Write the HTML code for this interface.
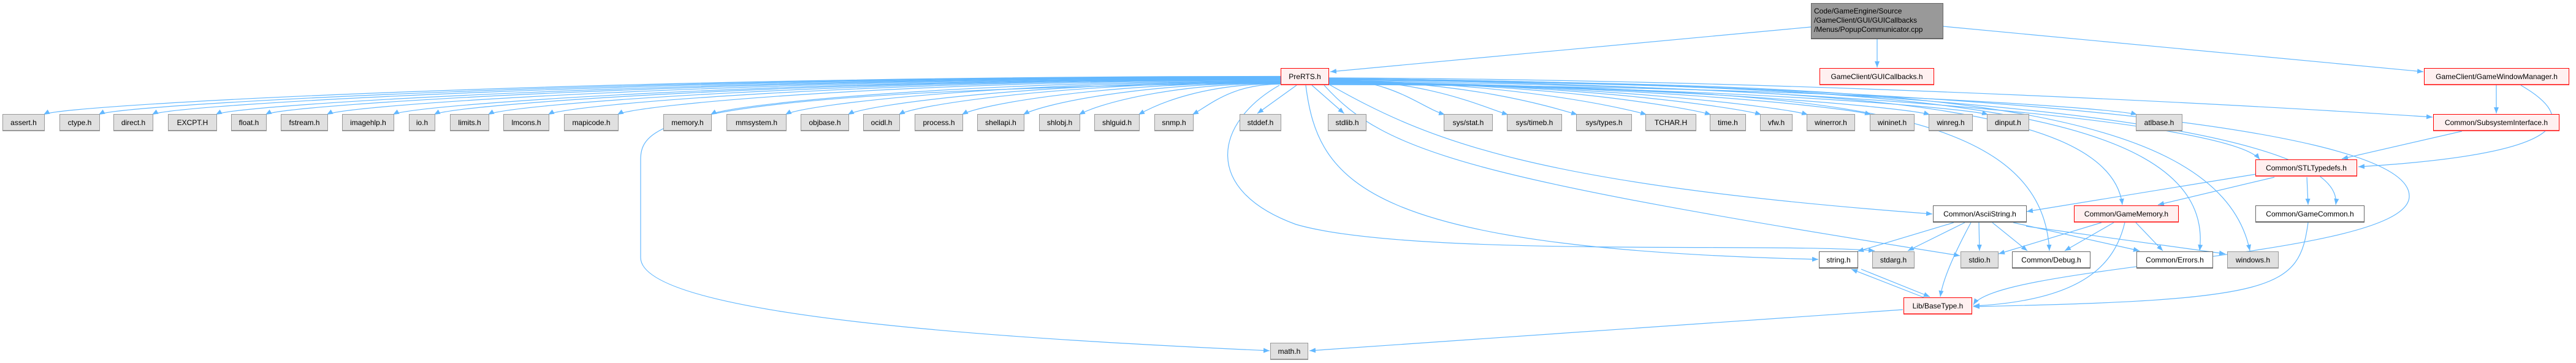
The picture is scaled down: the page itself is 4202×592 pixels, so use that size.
<!DOCTYPE html>
<html><head><meta charset="utf-8"><style>
html,body{margin:0;padding:0;background:#fff;}
#w{position:relative;width:4202px;height:592px;overflow:hidden;font-family:"Liberation Sans",sans-serif;font-size:12px;}
.n{position:absolute;box-sizing:border-box;height:28px;line-height:26px;text-align:center;white-space:nowrap;color:#000;background:#e0e0e0;border:1px solid #999;border-bottom:2px solid #999;}
.r{background:#fff0f0;border:1px solid #ff0000;border-bottom:2px solid #ff4040;}
.w{background:#fff;border:1px solid #666;border-bottom:2px solid #666;}
svg{position:absolute;left:0;top:0;}
</style></head><body><div id="w">
<svg id="s" width="4202" height="592" viewBox="0 0 4202 592">
<defs><marker id="a" markerWidth="10" markerHeight="8" refX="10" refY="4" orient="auto" markerUnits="userSpaceOnUse"><path d="M0,0 L10,4 L0,8 z" fill="#63b8ff"/></marker></defs>
<g id="g" fill="none" stroke="#63b8ff" stroke-width="1.2" marker-end="url(#a)"></g>
</svg>
<div class="n" style="left:2954px;top:5px;width:216px;height:59px;line-height:15px;padding-top:5px;text-align:left;padding-left:4px;background:#999;border-color:#666;">Code/GameEngine/Source<br>/GameClient/GUI/GUICallbacks<br>/Menus/PopupCommunicator.cpp</div>
<div class="n r" style="left:2089px;top:111px;width:79px">PreRTS.h</div>
<div class="n r" style="left:2968px;top:111px;width:187px">GameClient/GUICallbacks.h</div>
<div class="n r" style="left:3954px;top:111px;width:237px">GameClient/GameWindowManager.h</div>
<div class="n" style="left:4px;top:186px;width:69px">assert.h</div>
<div class="n" style="left:97px;top:186px;width:66px">ctype.h</div>
<div class="n" style="left:185px;top:186px;width:65px">direct.h</div>
<div class="n" style="left:274px;top:186px;width:80px">EXCPT.H</div>
<div class="n" style="left:377px;top:186px;width:58px">float.h</div>
<div class="n" style="left:458px;top:186px;width:77px">fstream.h</div>
<div class="n" style="left:558px;top:186px;width:85px">imagehlp.h</div>
<div class="n" style="left:667px;top:186px;width:43px">io.h</div>
<div class="n" style="left:734px;top:186px;width:64px">limits.h</div>
<div class="n" style="left:821px;top:186px;width:75px">lmcons.h</div>
<div class="n" style="left:920px;top:186px;width:89px">mapicode.h</div>
<div class="n" style="left:1082px;top:186px;width:79px">memory.h</div>
<div class="n" style="left:1185px;top:186px;width:98px">mmsystem.h</div>
<div class="n" style="left:1306px;top:186px;width:79px">objbase.h</div>
<div class="n" style="left:1408px;top:186px;width:60px">ocidl.h</div>
<div class="n" style="left:1492px;top:186px;width:79px">process.h</div>
<div class="n" style="left:1594px;top:186px;width:77px">shellapi.h</div>
<div class="n" style="left:1695px;top:186px;width:67px">shlobj.h</div>
<div class="n" style="left:1785px;top:186px;width:74px">shlguid.h</div>
<div class="n" style="left:1883px;top:186px;width:64px">snmp.h</div>
<div class="n" style="left:2022px;top:186px;width:68px">stddef.h</div>
<div class="n" style="left:2166px;top:186px;width:63px">stdlib.h</div>
<div class="n" style="left:2355px;top:186px;width:80px">sys/stat.h</div>
<div class="n" style="left:2458px;top:186px;width:90px">sys/timeb.h</div>
<div class="n" style="left:2571px;top:186px;width:91px">sys/types.h</div>
<div class="n" style="left:2684px;top:186px;width:83px">TCHAR.H</div>
<div class="n" style="left:2789px;top:186px;width:59px">time.h</div>
<div class="n" style="left:2871px;top:186px;width:53px">vfw.h</div>
<div class="n" style="left:2947px;top:186px;width:79px">winerror.h</div>
<div class="n" style="left:3050px;top:186px;width:73px">wininet.h</div>
<div class="n" style="left:3146px;top:186px;width:72px">winreg.h</div>
<div class="n" style="left:3241px;top:186px;width:69px">dinput.h</div>
<div class="n" style="left:3484px;top:186px;width:76px">atlbase.h</div>
<div class="n r" style="left:3969px;top:186px;width:206px">Common/SubsystemInterface.h</div>
<div class="n r" style="left:3679px;top:260px;width:166px">Common/STLTypedefs.h</div>
<div class="n w" style="left:3153px;top:335px;width:153px">Common/AsciiString.h</div>
<div class="n r" style="left:3383px;top:335px;width:171px">Common/GameMemory.h</div>
<div class="n w" style="left:3679px;top:335px;width:178px">Common/GameCommon.h</div>
<div class="n w" style="left:2967px;top:410px;width:64px">string.h</div>
<div class="n" style="left:3054px;top:410px;width:69px">stdarg.h</div>
<div class="n" style="left:3198px;top:410px;width:62px">stdio.h</div>
<div class="n w" style="left:3282px;top:410px;width:128px">Common/Debug.h</div>
<div class="n w" style="left:3485px;top:410px;width:125px">Common/Errors.h</div>
<div class="n" style="left:3633px;top:410px;width:84px">windows.h</div>
<div class="n r" style="left:3105px;top:485px;width:112px">Lib/BaseType.h</div>
<div class="n" style="left:2072px;top:559px;width:62px">math.h</div>
</div>
<script>
var g=document.getElementById('g');
function p(d){var e=document.createElementNS('http://www.w3.org/2000/svg','path');e.setAttribute('d',d);g.appendChild(e);}
var row=[[4,73],[97,163],[185,250],[274,354],[377,435],[458,535],[558,643],[667,710],[734,798],[821,896],[920,1009],[1082,1161],[1185,1283],[1306,1385],[1408,1468],[1492,1571],[1594,1671],[1695,1762],[1785,1859],[1883,1947],[2022,2090],[2166,2229],[2355,2435],[2458,2548],[2571,2662],[2684,2767],[2789,2848],[2871,2924],[2947,3026],[3050,3123],[3146,3218],[3241,3310],[3484,3560]];
row.forEach(function(b){
 var x1=b[0],x2=b[1];
 if(x2<2080){var tx=x2-2,ty=187;var sy=124+((x2/2080)*14);
  p('M2089,'+sy.toFixed(1)+' C'+(tx+(2089-tx)*0.45)+','+sy.toFixed(1)+' '+(tx+30)+',170 '+tx+','+ty);}
 else if(x1<2240){var tx=(x1+x2)/2-5;p('M'+(tx<2120?2115:2140)+',139 L'+tx+',185');}
 else {var tx=x1+2;var sy=128+Math.min(10,(x1-2240)/100);
  p('M2168,'+sy.toFixed(1)+' C'+(2168+(tx-2168)*0.55)+','+sy.toFixed(1)+' '+(tx-40)+',175 '+tx+',187');}
});
// top node edges
p('M2954,44 L2170,117');
p('M3062,64 L3062,110');
p('M3170,43 L3953,117');
// GWM
p('M4072,139 L4072,185');
p('M4112,139 C4200,190 4210,250 3847,272');
p('M4016,214 L3820,259');
// STL
p('M3680,284 L3306,345');
p('M3710,289 L3520,334');
p('M3763,289 L3765,334');
// AsciiString
p('M3187,363 L3030,410');
p('M3205,363 L3112,409');
p('M3215,363 C3195,400 3170,450 3165,484');
p('M3228,363 L3229,409');
p('M3250,363 L3307,409');
p('M3284,363 L3490,409');
p('M3305,369 L3630,414');
// GameMemory
p('M3428,363 L3260,414');
p('M3448,363 L3368,409');
p('M3466,363 C3450,430 3400,490 3219,499');
p('M3484,363 L3528,409');
// GameCommon
p('M3765,363 C3750,470 3720,490 3219,500');
// BaseType & string
p('M3138,485 L3020,439');
p('M3036,439 L3148,484');
p('M3104,505 L2136,572');
// PreRTS long edges
p('M2089,135 C1100,148 1045,200 1045,260 L1045,420 C1045,520 1700,555 2071,572');
p('M2087,139 C1980,200 1960,310 2114,366 C2300,420 2900,395 3058,409');
p('M2130,139 C2150,300 2230,405 2966,423');
p('M2160,139 C2260,250 2400,290 3197,417');
p('M2165,136 C2330,230 2500,300 3152,349');
p('M2168,132 C2900,150 3330,150 3343,409');
p('M2168,131 C2900,145 3440,150 3462,334');
p('M2168,130 C3000,140 3620,150 3588,409');
p('M2168,129 C3000,140 3615,140 3670,409');
p('M2168,129 C3000,140 3640,200 3686,260');
p('M2168,128 C3000,135 3830,190 3810,334');
p('M2168,128 C3000,135 3932,190 3930,320 C3930,420 3260,430 3219,497');
p('M2168,127 C3000,130 3800,180 3968,191');
</script>
</body></html>
